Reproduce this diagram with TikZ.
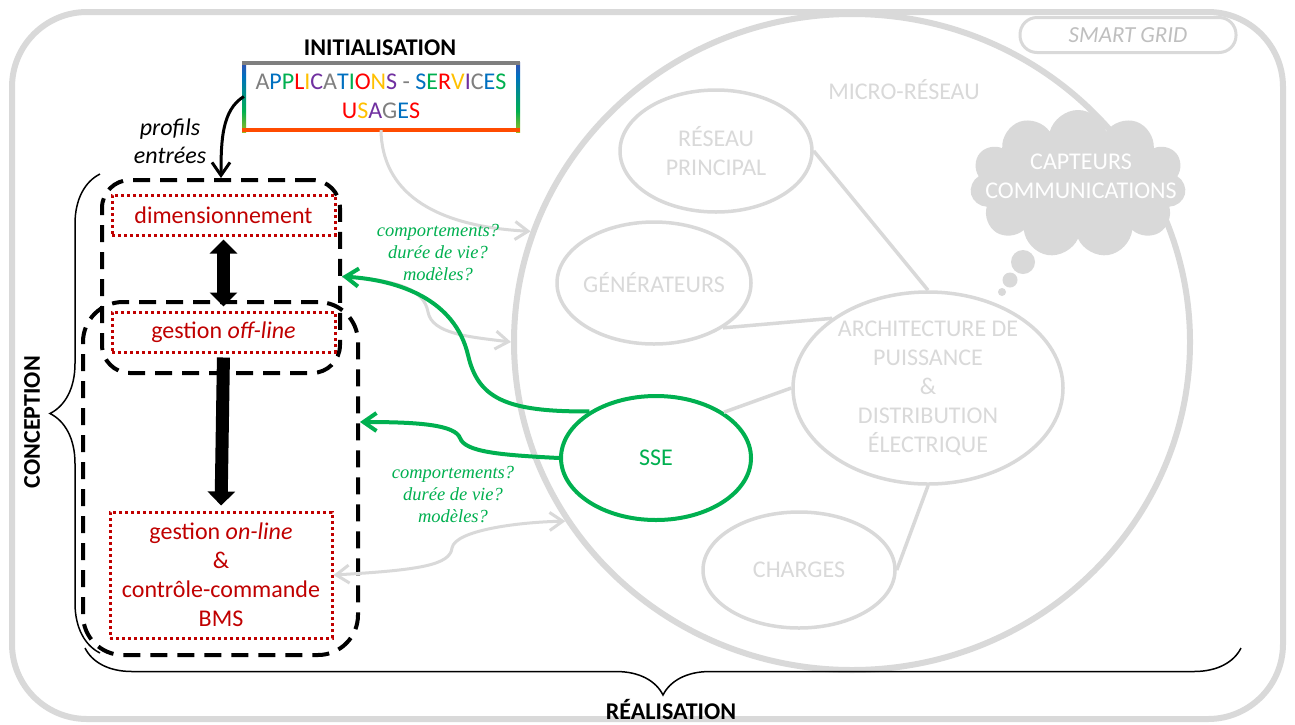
\documentclass[tikz,border=0pt]{standalone}
\usepackage{fontspec}
\setmainfont{Carlito}
\newfontfamily\qfont{Liberation Serif}
\usetikzlibrary{arrows.meta,shapes.geometric,shapes.symbols,decorations.pathreplacing}

\definecolor{lgray}{HTML}{D9D9D9}
\definecolor{sgray}{HTML}{BFBFBF}
\definecolor{sse}{HTML}{00B050}
\definecolor{dred}{HTML}{C00000}
\definecolor{rbgray}{HTML}{7F7F7F}
\definecolor{rbblue}{HTML}{0070C0}
\definecolor{rbgreen}{HTML}{00B050}
\definecolor{rbred}{HTML}{FF0000}
\definecolor{rbyellow}{HTML}{FFC000}
\definecolor{rbpurple}{HTML}{7030A0}
\definecolor{rborange}{HTML}{FF4B00}

\pgfdeclareverticalshading{rainbow}{100bp}{color(0bp)=(rborange); color(15bp)=(rbyellow);
  color(40bp)=(rbgreen); color(65bp)=(rbblue); color(85bp)=(rbpurple); color(100bp)=(rbgray)}

\newcommand{\rbG}[1]{\textcolor{rbgray}{#1}}
\newcommand{\rbB}[1]{\textcolor{rbblue}{#1}}
\newcommand{\rbN}[1]{\textcolor{rbgreen}{#1}}
\newcommand{\rbR}[1]{\textcolor{rbred}{#1}}
\newcommand{\rbY}[1]{\textcolor{rbyellow}{#1}}
\newcommand{\rbP}[1]{\textcolor{rbpurple}{#1}}

\begin{document}
\begin{tikzpicture}[x=1pt,y=-1pt,
    txt/.style={font=\fontsize{24}{29}\selectfont, align=center},
    title/.style={font=\bfseries\fontsize{24}{29}\selectfont, inner sep=0pt},
    blob/.style={ellipse, draw=lgray, line width=3.5pt, text=lgray, inner sep=0pt,
      font=\fontsize{24}{29}\selectfont, align=center},
    dashbox/.style={draw, line width=4pt, dash pattern=on 17pt off 10pt, rounded corners=28pt},
    dotbox/.style={draw=dred, line width=3pt, dash pattern=on 3pt off 3pt, text=dred,
      inner sep=0pt, font=\fontsize{24}{29}\selectfont, align=center},
    link/.style={draw=lgray, line width=3.5pt},
    barb/.style={-{Straight Barb[length=13pt,width=18pt]}},
    garrow/.style={lgray, line width=3pt, barb},
    qarrow/.style={sse, line width=4pt, barb},
    big/.style={line width=13pt, -{Triangle[length=14pt,width=27pt]}},
    quest/.style={text=sse, font=\qfont\itshape\fontsize{18.5}{22}\selectfont, align=center}]
  \useasboundingbox (0,0) rectangle (1295,724);
  \fill[white] (0,0) rectangle (1295,724);

  % smart grid
  \draw[lgray, line width=6pt, rounded corners=75pt] (12,12) rectangle (1283,719);
  \node[draw=lgray, line width=3pt, rounded corners=17pt, minimum width=216pt, minimum height=35pt,
    text=sgray, font=\itshape\fontsize{23}{28}\selectfont] (sg) at (1128,35) {SMART GRID};

  % micro-reseau
  \node[ellipse, draw=lgray, line width=6pt, minimum width=676pt, minimum height=656pt] (mr) at (852,342) {};
  \node[txt, text=lgray] (mrlab) at (904,90) {MICRO-RÉSEAU};
  \node[blob, minimum width=192pt, minimum height=122pt] (rp) at (716,151) {RÉSEAU\\PRINCIPAL};
  \node[blob, minimum width=194pt, minimum height=122pt, inner xsep=-8pt] (gen) at (654,283) {GÉNÉRATEURS};
  \node[blob, minimum width=270pt, minimum height=192pt, inner ysep=-9pt, inner xsep=-4pt] (arch) at (928,388)
    {ARCHITECTURE DE\\PUISSANCE\\\&\\DISTRIBUTION\\ÉLECTRIQUE};
  \node[blob, minimum width=192pt, minimum height=116pt] (chg) at (799,570) {CHARGES};
  \node[blob, draw=sse, text=sse, line width=4pt, minimum width=190pt, minimum height=124pt] (sse) at (656,458) {SSE};
  \path[link]
    (rp.east) edge (arch.north)
    (gen.-33) edge (arch.144)
    (sse.34) edge (arch.west)
    (arch.south) edge (chg.east);

  \node[cloud, cloud puffs=11, cloud ignores aspect, fill=lgray, minimum width=216pt, minimum height=148pt] (cld) at (1078,184) {};
  \node[txt, text=white] (cldlab) at (1081,176) {CAPTEURS\\COMMUNICATIONS};
  \fill[lgray] (1023,262) circle[radius=12pt] (1010,280) circle[radius=7.5pt] (1002,292) circle[radius=4pt];

  % initialisation
  \node[title] (init) at (380,48) {INITIALISATION};
  \node[txt, minimum width=274pt, minimum height=67pt, inner sep=0pt] (app) at (381,96.5)
    {\rbG{A}\rbB{P}\rbN{P}\rbR{L}\rbY{I}\rbP{C}\rbG{A}\rbB{T}\rbN{I}\rbR{O}\rbY{N}\rbP{S} \rbG{-} \rbB{S}\rbN{E}\rbR{R}\rbY{V}\rbP{I}\rbG{C}\rbB{E}\rbN{S}\\
     \rbR{U}\rbY{S}\rbP{A}\rbG{G}\rbB{E}\rbR{S}};
  \shade[shading=rainbow] (242,62) rectangle (246,132);
  \shade[shading=rainbow] (516,62) rectangle (520,132);
  \fill[rbgray] (242,61) rectangle (520,65);
  \fill[rborange] (242,128) rectangle (520,132);

  % conception
  \node[dashbox, minimum width=238pt, minimum height=193pt] (conc1) at (221,276.5) {};
  \node[dashbox, rounded corners=40pt, minimum width=275pt, minimum height=353pt] (conc2) at (220.5,478.5) {};
  \node[dotbox, minimum width=223pt, minimum height=40pt] (dim) at (223.5,215) {dimensionnement};
  \node[dotbox, minimum width=223pt, minimum height=40pt] (offl) at (223.5,332) {gestion \textit{off-line}};
  \node[dotbox, minimum width=222pt, minimum height=126pt] (onl) at (221,575)
    {gestion \textit{on-line}\\\&\\contrôle-commande\\BMS};
  \draw[big, {Triangle[length=14pt,width=27pt]}-{Triangle[length=14pt,width=27pt]}, shorten <=3pt, shorten >=4pt] (dim.south) -- (offl.north);
  \draw[big, shorten <=4pt, shorten >=5pt] (offl.south) -- (onl.north);

  \draw[barb, line width=3pt] (app.west) .. controls (222,110) and (221,140) .. (conc1.north);
  \node[txt, font=\itshape\fontsize{24}{28}\selectfont] (prof) at (170,141) {profils\\entrées};

  % liens
  \coordinate (q2) at (360,422);
  \draw[garrow] (app.south) .. controls (382,190) and (430,226) .. (mr.161);
  \draw[garrow] (conc1.east) .. controls (400,280) and (424,290) .. (428,312) .. controls (432,334) and (470,337) .. (mr.180);
  \draw[garrow, {Straight Barb[length=13pt,width=18pt]}-{Straight Barb[length=13pt,width=18pt]}]
    (onl.east) .. controls (420,570) and (450,565) .. (452,548) .. controls (455,530) and (520,522) .. (mr.212);
  \draw[qarrow] (sse.145) .. controls (505,412) and (478,398) .. (468,355) .. controls (455,300) and (400,280) .. (conc1.east);
  \draw[qarrow] (sse.west) .. controls (500,455) and (465,452) .. (460,438) .. controls (455,425) and (420,422) .. (q2);
  \node[quest] (q1lab) at (438,252) {comportements?\\durée de vie?\\modèles?};
  \node[quest] (q2lab) at (453,494) {comportements?\\durée de vie?\\modèles?};

  % accolades
  \draw[decorate, decoration={brace, amplitude=50pt}, line width=1.5pt] (100,653) -- (100,174);
  \node[title, rotate=90] (concl) at (32,422) {CONCEPTION};
  \draw[decorate, decoration={brace, amplitude=47pt}, line width=1.5pt] (1241,648) -- (85,648);
  \node[title] (real) at (671,709) {RÉALISATION};
\end{tikzpicture}
\end{document}
